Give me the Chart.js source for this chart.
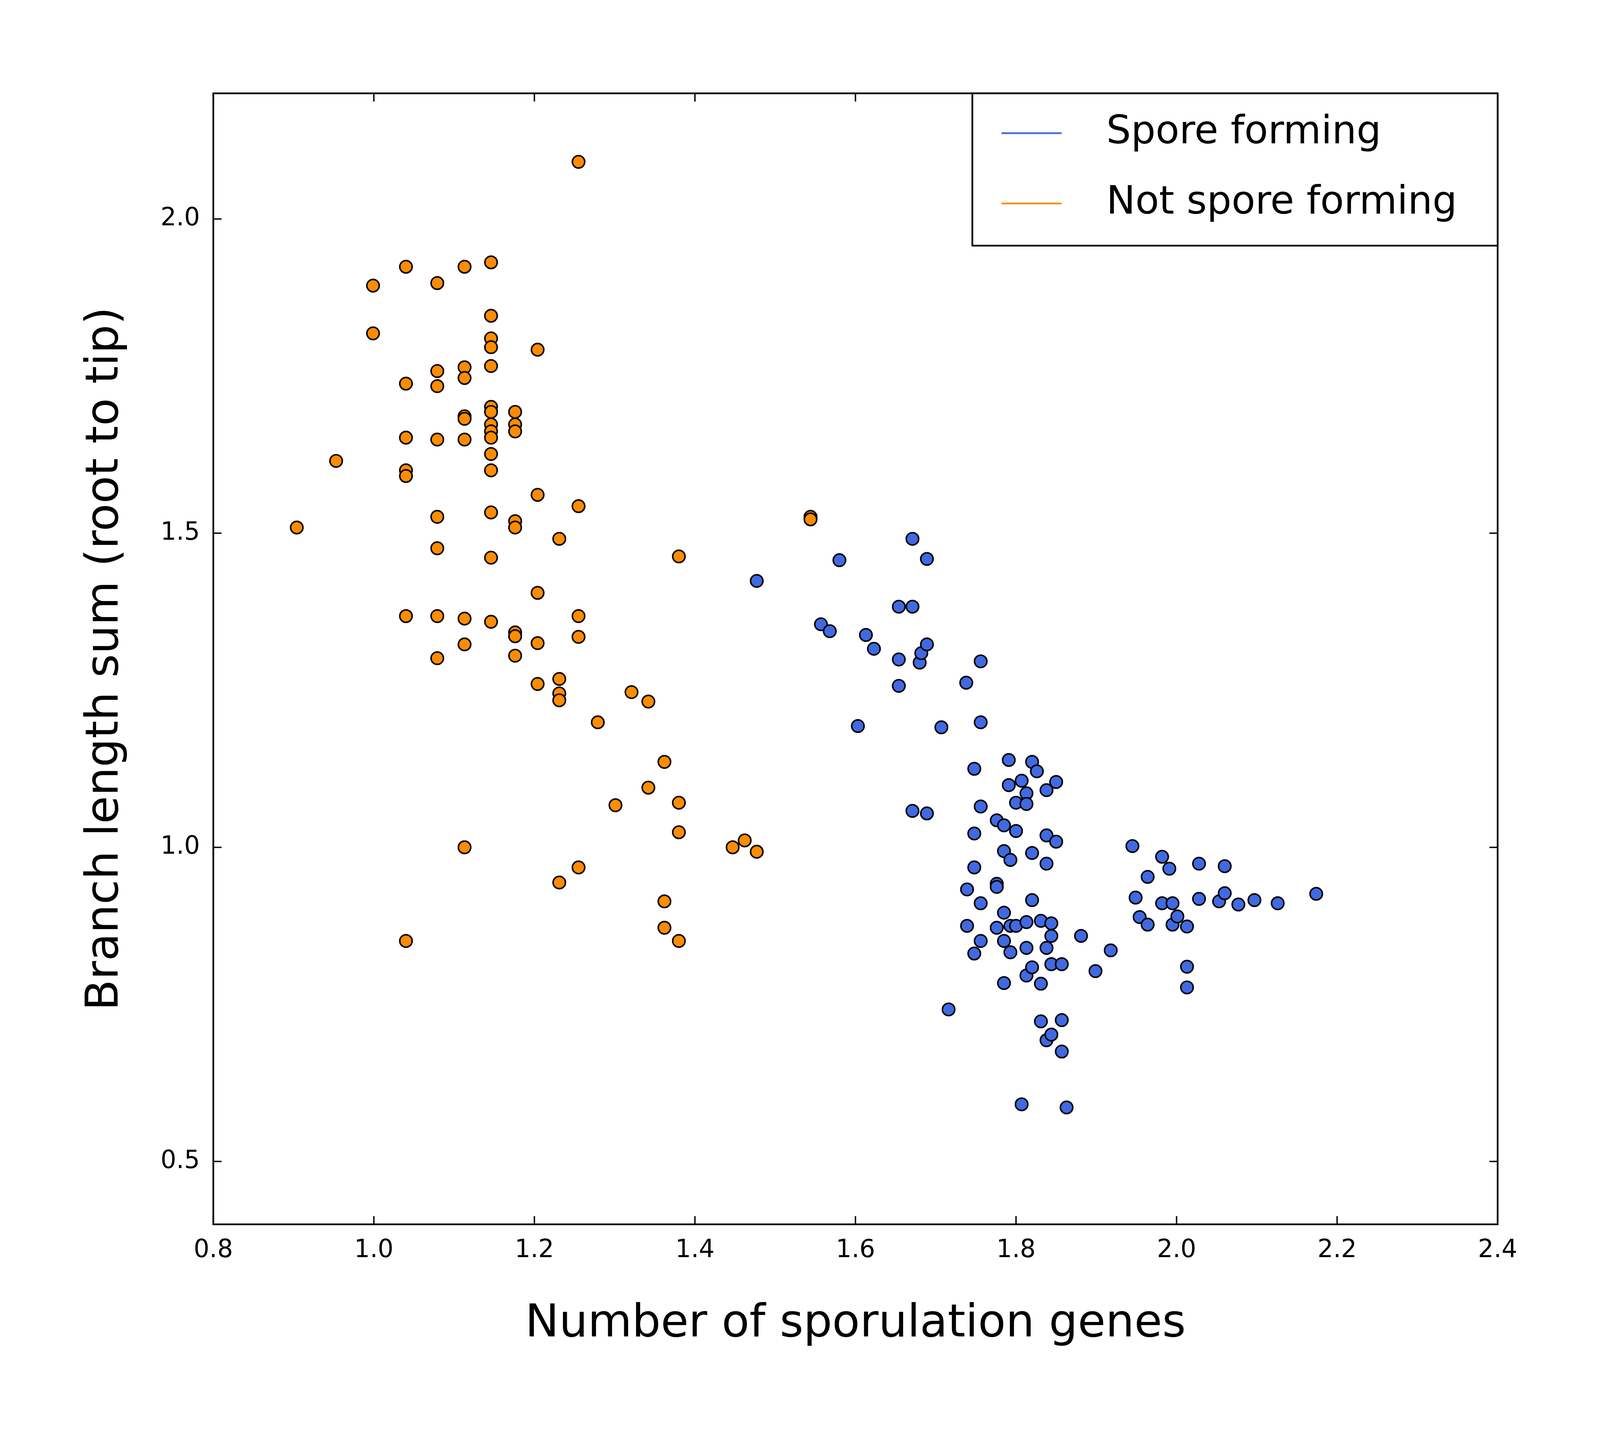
<!DOCTYPE html>
<html><head><meta charset="utf-8">
<script src="https://cdn.jsdelivr.net/npm/chart.js@4/dist/chart.umd.min.js"></script>
<style>html,body{margin:0;padding:0;background:#fff;overflow:hidden}#wrap{position:fixed;left:0;top:0;width:100vw;height:100vh}</style>
</head><body>
<div id="wrap"><canvas id="c"></canvas></div>
<script>
const sporeX = [1.477,1.557,1.568,1.580,1.603,1.613,1.623,1.654,1.654,1.654,1.671,1.671,1.671,1.680,1.682,1.689,1.689,1.689,1.707,1.716,1.738,1.739,1.739,1.748,1.748,1.748,1.748,1.756,1.756,1.756,1.756,1.756,1.776,1.776,1.776,1.776,1.785,1.785,1.785,1.785,1.785,1.791,1.791,1.793,1.793,1.793,1.800,1.800,1.800,1.807,1.807,1.813,1.813,1.813,1.813,1.813,1.820,1.820,1.820,1.820,1.826,1.831,1.831,1.831,1.838,1.838,1.838,1.838,1.838,1.844,1.844,1.844,1.844,1.850,1.850,1.857,1.857,1.857,1.863,1.881,1.899,1.918,1.945,1.949,1.954,1.964,1.964,1.982,1.982,1.991,1.995,1.995,2.001,2.013,2.013,2.013,2.028,2.028,2.053,2.060,2.060,2.077,2.097,2.126,2.174]
const sporeY = [1.424,1.355,1.344,1.457,1.193,1.338,1.316,1.383,1.299,1.257,1.491,1.383,1.058,1.294,1.309,1.323,1.459,1.054,1.191,0.742,1.262,0.933,0.875,1.125,1.022,0.968,0.831,1.296,1.199,1.065,0.911,0.851,1.043,0.942,0.937,0.872,1.035,0.994,0.896,0.851,0.784,1.139,1.099,0.980,0.875,0.833,1.026,1.071,0.875,1.106,0.591,1.086,1.069,0.881,0.840,0.796,1.136,0.991,0.916,0.809,1.121,0.883,0.783,0.723,1.091,1.019,0.974,0.840,0.693,0.879,0.859,0.814,0.702,1.104,1.009,0.814,0.725,0.675,0.586,0.859,0.803,0.836,1.002,0.920,0.889,0.953,0.877,0.985,0.911,0.966,0.911,0.877,0.890,0.874,0.810,0.777,0.974,0.918,0.914,0.970,0.927,0.909,0.916,0.911,0.926]
const notX = [0.904,0.953,0.999,0.999,1.040,1.040,1.040,1.040,1.040,1.040,1.040,1.079,1.079,1.079,1.079,1.079,1.079,1.079,1.079,1.113,1.113,1.113,1.113,1.113,1.113,1.113,1.113,1.113,1.146,1.146,1.146,1.146,1.146,1.146,1.146,1.146,1.146,1.146,1.146,1.146,1.146,1.146,1.146,1.176,1.176,1.176,1.176,1.176,1.176,1.176,1.176,1.204,1.204,1.204,1.204,1.204,1.231,1.231,1.231,1.231,1.231,1.255,1.255,1.255,1.255,1.255,1.279,1.301,1.321,1.342,1.342,1.362,1.362,1.362,1.380,1.380,1.380,1.380,1.447,1.462,1.477,1.544,1.544]
const notY = [1.509,1.615,1.894,1.818,1.924,1.738,1.652,1.600,1.591,1.368,0.851,1.898,1.758,1.734,1.649,1.526,1.476,1.368,1.301,1.924,1.764,1.747,1.686,1.682,1.649,1.364,1.323,1.000,1.931,1.846,1.810,1.796,1.766,1.701,1.693,1.673,1.662,1.652,1.626,1.600,1.533,1.461,1.359,1.693,1.673,1.662,1.519,1.509,1.342,1.336,1.305,1.792,1.561,1.405,1.325,1.260,1.491,1.268,1.245,1.234,0.944,1.543,2.091,1.368,1.335,0.968,1.199,1.067,1.247,1.232,1.095,1.136,0.914,0.872,1.463,1.071,1.024,0.851,1.000,1.011,0.993,1.526,1.522]
const xTicks = [0.8,1.0,1.2,1.4,1.6,1.8,2.0,2.2,2.4]
const yTicks = [0.5,1.0,1.5,2.0]
const seriesNames = ['Spore forming','Not spore forming']
const seriesColors = ['#4169E1','#FF8C00']

const FONT = 'DejaVu Sans'
const pts = (xs, ys) => xs.map((x,i)=>({x:x,y:ys[i]}))

const wrap = document.getElementById('wrap')
const W = wrap.clientWidth, H = wrap.clientHeight
const s = W/4658, sh = H/3677

const frame = {
  id:'frame',
  afterDraw(chart){
    const {ctx, chartArea:a, scales} = chart
    ctx.save()
    ctx.strokeStyle='#000'; ctx.lineWidth=5*s
    ctx.strokeRect(a.left,a.top,a.right-a.left,a.bottom-a.top)
    ctx.lineWidth=4*s
    const L=24*s
    xTicks.forEach(v=>{
      const p=scales.x.getPixelForValue(v)
      ctx.beginPath(); ctx.moveTo(p,a.bottom); ctx.lineTo(p,a.bottom-L)
      ctx.moveTo(p,a.top); ctx.lineTo(p,a.top+L); ctx.stroke()
    })
    yTicks.forEach(v=>{
      const p=scales.y.getPixelForValue(v)
      ctx.beginPath(); ctx.moveTo(a.left,p); ctx.lineTo(a.left+L,p)
      ctx.moveTo(a.right,p); ctx.lineTo(a.right-L,p); ctx.stroke()
    })
    // legend box
    const bx=a.left+(a.right-a.left)*0.591, bw=a.right-bx, bh=390*sh
    ctx.fillStyle='#fff'; ctx.fillRect(bx,a.top,bw,bh)
    ctx.lineWidth=5*s; ctx.strokeRect(bx,a.top,bw,bh)
    ctx.font=(113*s)+'px '+FONT; ctx.textBaseline='middle'
    seriesNames.forEach((n,i)=>{
      const yy=a.top+(102+i*180)*sh
      ctx.strokeStyle=seriesColors[i]; ctx.lineWidth=5*s
      ctx.beginPath(); ctx.moveTo(bx+85*s,yy); ctx.lineTo(bx+260*s,yy); ctx.stroke()
      ctx.fillStyle='#000'; ctx.fillText(n,bx+390*s,yy)
    })
    ctx.restore()
  }
}

new Chart(document.getElementById('c'),{
  type:'scatter',
  data:{datasets:[
    {label:seriesNames[1],data:pts(notX,notY),backgroundColor:seriesColors[1],borderColor:'#000',borderWidth:4.5*s,pointRadius:18*s},
    {label:seriesNames[0],data:pts(sporeX,sporeY),backgroundColor:seriesColors[0],borderColor:'#000',borderWidth:4.5*s,pointRadius:18*s}
  ]},
  options:{
    responsive:true,maintainAspectRatio:false,animation:false,devicePixelRatio:1,
    layout:{padding:{top:239*sh,right:298*s,left:224*s,bottom:212*sh}},
    plugins:{legend:{display:false},tooltip:{enabled:false}},
    scales:{
      x:{type:'linear',min:0.8,max:2.4,
        afterBuildTicks:sc=>{sc.ticks=xTicks.map(v=>({value:v}))},
        afterFit:sc=>{sc.height=330*sh},
        grid:{display:false},border:{display:false},
        ticks:{font:{family:FONT,size:72*s},color:'#000',padding:24*s,maxRotation:0,callback:v=>v.toFixed(1)},
        title:{display:true,text:'Number of sporulation genes',font:{family:FONT,size:132*s},color:'#000',padding:{top:0}}},
      y:{type:'linear',min:0.4,max:2.2,
        afterBuildTicks:sc=>{sc.ticks=yTicks.map(v=>({value:v}))},
        afterFit:sc=>{sc.width=397*s},
        grid:{display:false},border:{display:false},
        ticks:{font:{family:FONT,size:72*s},color:'#000',padding:30*s,callback:v=>v.toFixed(1)},
        title:{display:true,text:'Branch length sum (root to tip)',font:{family:FONT,size:132*s},color:'#000',padding:{bottom:0}}}
    }
  },
  plugins:[frame]
})
</script>
</body></html>
